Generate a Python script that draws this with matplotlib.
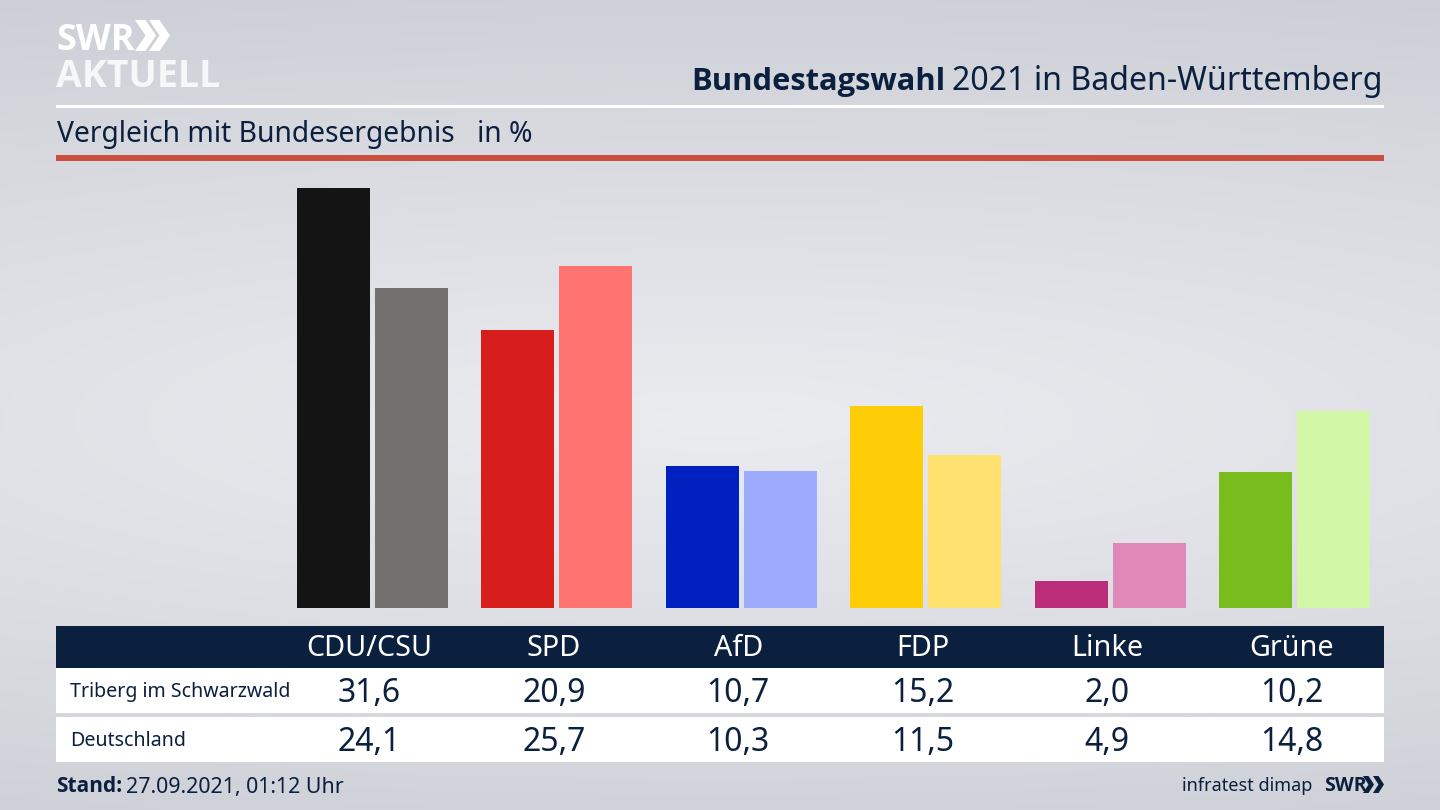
import numpy as np
import matplotlib
matplotlib.use("Agg")
import matplotlib.pyplot as plt
from matplotlib.patches import Rectangle, Polygon

parties = ["CDU/CSU", "SPD", "AfD", "FDP", "Linke", "Grüne"]
row_names = ["Triberg im Schwarzwald", "Deutschland"]
local_values = [31.6, 20.9, 10.7, 15.2, 2.0, 10.2]
national_values = [24.1, 25.7, 10.3, 11.5, 4.9, 14.8]
local_colors = ["#141414", "#d81e1c", "#0020c0", "#ffcc08", "#bb2d78", "#78bc1e"]
national_colors = ["#72716f", "#ff7370", "#9dabff", "#ffe16f", "#e088b8", "#d2f7a6"]

NAVY = "#0b1f3e"
FONT = "Noto Sans"
BOLD = "Open Sans"
plt.rcParams["font.family"] = [FONT, "DejaVu Sans"]

W, H = 1440, 810
fig = plt.figure(figsize=(W / 100, H / 100), dpi=100)

# background + furniture in pixel coordinates
bg = fig.add_axes([0, 0, 1, 1], zorder=0)
bg.set_xlim(0, W); bg.set_ylim(H, 0); bg.axis("off")
yy, xx = np.mgrid[0:1:162j, 0:1:288j]
d = np.clip(np.sqrt(((yy - 0.52) / 0.62) ** 2 + ((xx - 0.5) / 1.6) ** 2), 0, 1)
top = np.array([0xc9, 0xcc, 0xd3]) / 255
mid = np.array([0xeb, 0xec, 0xf0]) / 255
img = mid[None, None, :] * (1 - d[..., None]) + top[None, None, :] * d[..., None]
bg.imshow(img, extent=[0, W, H, 0], aspect="auto", interpolation="bilinear", zorder=0)
bg.set_xlim(0, W); bg.set_ylim(H, 0)

bg.add_patch(Rectangle((56, 105), 1328, 2.5, color="white", lw=0))
bg.add_patch(Rectangle((56, 155), 1328, 5.5, color="#c94f3e", lw=0))
bg.add_patch(Rectangle((56, 626), 1328, 42, color=NAVY, lw=0))
bg.add_patch(Rectangle((56, 668), 1328, 45, color="white", lw=0))
bg.add_patch(Rectangle((56, 717), 1328, 45, color="white", lw=0))

# logo
bg.text(56, 50.5, "SWR", color="white", fontsize=26, fontweight="bold", ha="left", va="baseline", family=BOLD)
bg.text(56, 87, "AKTUELL", color="#f6f7f8", fontsize=27, fontweight="bold", ha="left", va="baseline", family=BOLD)
def chevron(ax, x, y, w, h, color):
    ax.add_patch(Polygon([(x, y), (x + w * 0.5, y), (x + w, y + h / 2), (x + w * 0.5, y + h), (x, y + h),
                          (x + w * 0.5, y + h / 2)], closed=True, color=color, lw=0))
chevron(bg, 135, 20, 21, 31, "white")
chevron(bg, 149, 20, 21, 31, "white")
chevron(bg, 1363, 776, 11, 17, NAVY)
chevron(bg, 1373, 776, 11, 17, NAVY)

# headings
bg.text(1383, 90, "2021 in Baden-Württemberg", color=NAVY, fontsize=23.1, ha="right", va="baseline")
bg.text(945, 90, "Bundestagswahl", color=NAVY, fontsize=22.2, fontweight="bold", ha="right", va="baseline", family=BOLD)
bg.text(57, 142, "Vergleich mit Bundesergebnis", color=NAVY, fontsize=20.35, ha="left", va="baseline")
bg.text(477, 142, "in %", color=NAVY, fontsize=20.35, ha="left", va="baseline")

# bars
step = 184.4
c0 = 372.5
ax = fig.add_axes([56 / W, 1 - 608 / H, 1328 / W, 448 / H], zorder=1)
ax.patch.set_alpha(0)
ax.set_xlim((56 - c0) / step, (1384 - c0) / step)
ax.set_ylim(0, 448 / 13.29)
ax.axis("off")
x = np.arange(len(parties))
off = 39 / step
bw = 73 / step
ax.bar(x - off, local_values, bw, color=local_colors, lw=0)
ax.bar(x + off, national_values, bw, color=national_colors, lw=0)

# table
for i, p in enumerate(parties):
    cx = 369.5 + i * step
    bg.text(cx, 656, p, color="white", fontsize=20.7, ha="center", va="baseline")
    bg.text(cx, 702, f"{local_values[i]:.1f}".replace(".", ","), color=NAVY, fontsize=23, ha="center", va="baseline")
    bg.text(cx, 751, f"{national_values[i]:.1f}".replace(".", ","), color=NAVY, fontsize=23, ha="center", va="baseline")
bg.text(70, 697, row_names[0], color=NAVY, fontsize=14.1, ha="left", va="baseline")
bg.text(70, 746, row_names[1], color=NAVY, fontsize=14.1, ha="left", va="baseline")

# footer
bg.text(56, 792.5, "Stand:", color=NAVY, fontsize=15, fontweight="bold", ha="left", va="baseline", family=BOLD)
bg.text(126, 792.5, "27.09.2021, 01:12 Uhr", color=NAVY, fontsize=15.4, ha="left", va="baseline")
bg.text(1312, 791, "infratest dimap", color=NAVY, fontsize=13, ha="right", va="baseline")
bg.text(1324, 791, "SWR", color=NAVY, fontsize=14, fontweight="bold", ha="left", va="baseline", family=BOLD)

fig.savefig("out.png", dpi=100)
